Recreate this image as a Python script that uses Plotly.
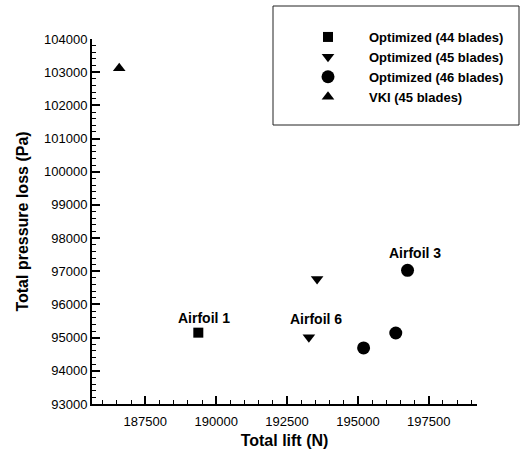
import plotly.graph_objects as go

FONT = "Liberation Sans, Arial, Helvetica, sans-serif"

# Data
opt44_lift = [189370]
opt44_loss = [95150]
opt45_lift = [193560, 193270]
opt45_loss = [96770, 95010]
opt46_lift = [195200, 196335, 196750]
opt46_loss = [94690, 95140, 97030]
vki_lift = [186580]
vki_loss = [103120]

series_names = ["Optimized (44 blades)", "Optimized (45 blades)",
                "Optimized (46 blades)", "VKI (45 blades)"]

label_texts = ["Airfoil 1", "Airfoil 6", "Airfoil 3"]
label_lift = [opt44_lift[0], opt45_lift[1], opt46_lift[2]]
label_loss = [opt44_loss[0], opt45_loss[1], opt46_loss[2]]
label_xshift = [6, 7, 7]
label_yshift = [15, 18, 17]

fig = go.Figure()
fig.add_trace(go.Scatter(x=opt44_lift, y=opt44_loss, mode="markers", name=series_names[0],
                         marker=dict(symbol="square", size=10, color="black")))
fig.add_trace(go.Scatter(x=opt45_lift, y=opt45_loss, mode="markers", name=series_names[1],
                         marker=dict(symbol="triangle-down", size=11, color="black")))
fig.add_trace(go.Scatter(x=opt46_lift, y=opt46_loss, mode="markers", name=series_names[2],
                         marker=dict(symbol="circle", size=13, color="black")))
fig.add_trace(go.Scatter(x=vki_lift, y=vki_loss, mode="markers", name=series_names[3],
                         marker=dict(symbol="triangle-up", size=11, color="black")))

for t, x, y, xs, ys in zip(label_texts, label_lift, label_loss, label_xshift, label_yshift):
    fig.add_annotation(x=x, y=y, text=t, showarrow=False, xshift=xs, yshift=ys,
                       font=dict(family=FONT, size=14, color="black", weight="bold"))

axis_common = dict(
    showgrid=False, zeroline=False, showline=True, linewidth=2, linecolor="black",
    ticks="inside", ticklen=8, tickwidth=2, tickcolor="black",
    tickfont=dict(family=FONT, size=13, color="black"),
    tickformat="d",
    mirror=False,
)

fig.update_xaxes(
    range=[185620, 199200], tick0=187500, dtick=2500, tickangle=0,
    ticklabelstandoff=4,
    minor=dict(ticks="inside", ticklen=4, tickwidth=1, tickcolor="black", dtick=500, tick0=187500),
    title=dict(text="Total lift (N)", font=dict(family=FONT, size=16, color="black", weight="bold"),
               standoff=7),
    **axis_common,
)
fig.update_yaxes(
    range=[93000, 104000], tick0=93000, dtick=1000,
    minor=dict(ticks="inside", ticklen=4, tickwidth=1, tickcolor="black", dtick=200, tick0=93000),
    title=dict(text="Total pressure loss (Pa)", font=dict(family=FONT, size=16, color="black", weight="bold"),
               standoff=11),
    **axis_common,
)

# legend frame
fig.add_shape(type="rect", xref="paper", yref="paper",
              x0=(273 - 92) / 385, x1=(519 - 92) / 385,
              y0=(404 - 125) / 365, y1=(404 - 6) / 365,
              line=dict(color="#222222", width=1), layer="above")

fig.update_layout(
    width=520, height=452,
    margin=dict(l=92, r=43, t=39, b=48, autoexpand=False),
    plot_bgcolor="white", paper_bgcolor="white",
    font=dict(family=FONT, color="black"),
    legend=dict(
        xref="container", yref="container",
        x=287 / 520, y=1 - 22 / 452, xanchor="left", yanchor="top",
        bgcolor="rgba(0,0,0,0)", borderwidth=0,
        itemwidth=72,
        font=dict(family=FONT, size=13, color="black", weight="bold"),
        tracegroupgap=0,
    ),
)

fig.write_html("out.html")
